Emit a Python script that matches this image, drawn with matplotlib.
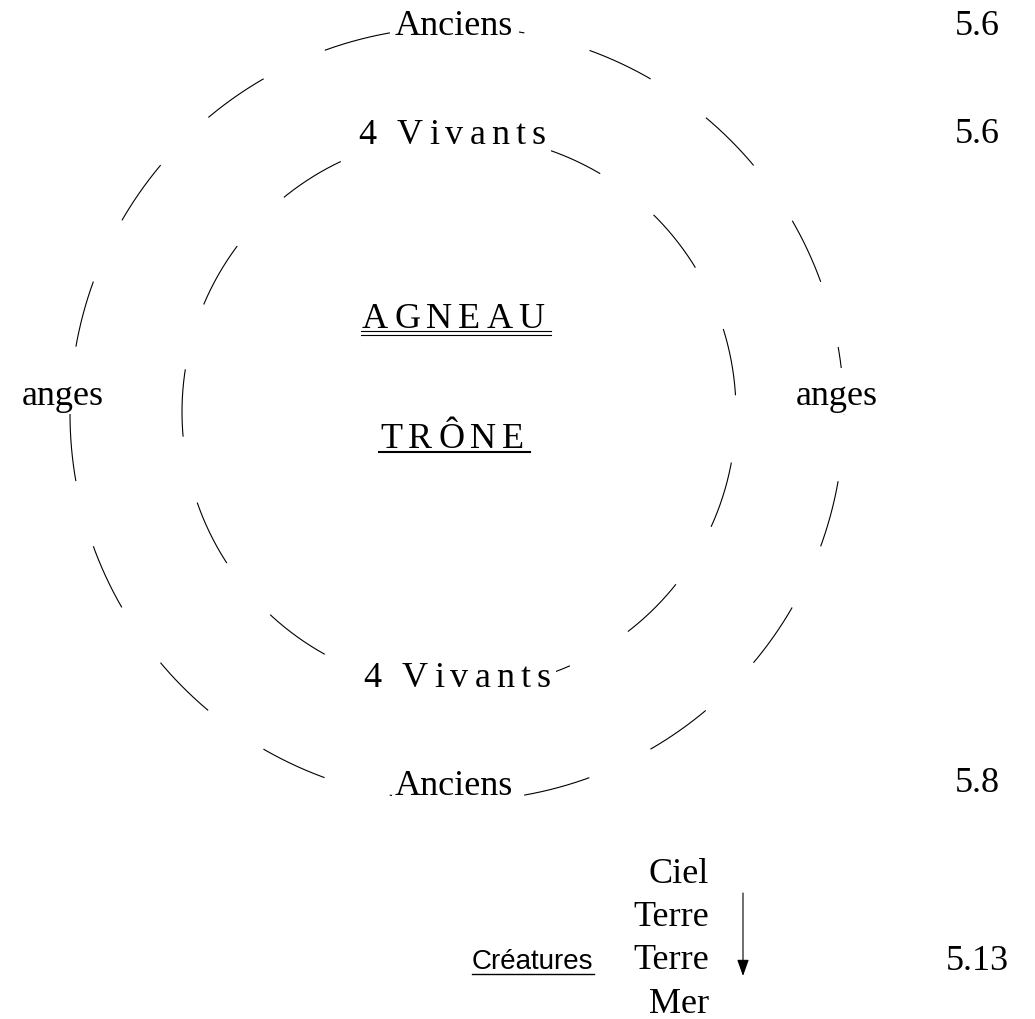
import numpy as np
import matplotlib
matplotlib.use("Agg")
import matplotlib.pyplot as plt
from matplotlib import font_manager
from matplotlib.ft2font import FT2Font
from matplotlib.patches import Rectangle

try:
    from matplotlib.ft2font import LoadFlags
    NO_HINT = LoadFlags.NO_HINTING
except Exception:  # older matplotlib
    from matplotlib.ft2font import LOAD_NO_HINTING as NO_HINT

# ---------------- data (text content) ----------------
ring_labels = ["Anciens", "4 Vivants"]          # outer ring, inner ring
side_label = "anges"
centre_labels = ["AGNEAU", "TRÔNE"]
verse_refs = ["5.6", "5.6", "5.8", "5.13"]
creature_title = "Créatures"
creature_realms = ["Ciel", "Terre", "Terre", "Mer"]

# ---------------- layout ----------------
W, H, DPI = 1035, 1020, 100
plt.rcParams["lines.scale_dashes"] = False
fig = plt.figure(figsize=(W / DPI, H / DPI), dpi=DPI)
ax = fig.add_axes([0, 0, 1, 1])
ax.set_xlim(0, W)
ax.set_ylim(H, 0)
ax.axis("off")

SERIF = "Liberation Serif"
SANS = "Liberation Sans"
FS = 26
EM = FS * DPI / 72.0
TRACK = 6.0
DASH_PT = 67.55 * 72.0 / DPI      # dash = gap
LW = 0.8


def advances(s, family, size):
    path = font_manager.findfont(font_manager.FontProperties(family=family))
    ft = FT2Font(path)
    ft.set_size(size, DPI)
    out = []
    for c in s:
        g = ft.load_char(ord(c), flags=NO_HINT)
        out.append(g.linearHoriAdvance / 65536.0)
    return out


def mask(x0, x1, base, em=EM):
    ax.add_patch(Rectangle((x0, base - em), x1 - x0, em * 1.27,
                           facecolor="white", edgecolor="none", zorder=2))


def plain(x, y, s, ha="left", family=SERIF, size=FS, masked=False,
          padl=3, padr=6):
    t = ax.text(x, y, s, ha=ha, va="baseline", family=family, fontsize=size,
                color="black", zorder=3)
    if masked:
        w = sum(advances(s, family, size))
        mask(x - padl, x + w + padr, y)
    return t


def tracked(x, y, s, track=TRACK, family=SERIF, size=FS, masked=False):
    adv = advances(s, family, size)
    pos = x
    for c, a in zip(s, adv):
        if c != " ":
            ax.text(pos, y, c, ha="left", va="baseline", family=family,
                    fontsize=size, color="black", zorder=3)
        pos += a + track
    if masked:
        mask(x - 3, pos, y)
    return pos


def ring(cx, cy, r, start_deg):
    t = np.deg2rad(np.linspace(start_deg, start_deg + 360.0, 3000))
    ax.plot(cx + r * np.cos(t), cy + r * np.sin(t), color="black", lw=LW,
            linestyle=(0, (DASH_PT, DASH_PT)), dash_capstyle="butt", zorder=1)


# dashed rings
ring(457, 415, 387, 10.0)
ring(459, 413, 277, 119.0)

# ring labels
plain(395, 35, ring_labels[0], masked=True)
plain(395, 795, ring_labels[0], masked=True)
tracked(358, 144, ring_labels[1], masked=True)
tracked(363, 687, ring_labels[1], masked=True)
plain(22, 405, side_label, masked=True)
plain(796, 405, side_label, masked=True)

# centre labels with underlines
end_a = tracked(362, 328, centre_labels[0])
ax.plot([361, end_a], [332, 332], color="black", lw=LW, zorder=3)
ax.plot([361, end_a], [335.5, 335.5], color="black", lw=LW, zorder=3)
end_t = tracked(380, 448, centre_labels[1])
ax.plot([379, end_t], [453, 453], color="black", lw=1.5, zorder=3)

# verse references
plain(955, 35, verse_refs[0])
plain(955, 143, verse_refs[1])
plain(955, 792, verse_refs[2])
plain(946, 970, verse_refs[3])

# creatures
cs = 20
cx0 = 472
plain(cx0, 969, creature_title, family=SANS, size=cs)
wc = sum(advances(creature_title, SANS, cs))
ax.plot([cx0, cx0 + wc], [975, 975], color="black", lw=1.0, zorder=3)
for y, s in zip([883, 926, 969, 1013], creature_realms):
    plain(709, y, s, ha="right")

ax.annotate("", xy=(743, 977), xytext=(743, 894),
            arrowprops=dict(arrowstyle="-|>,head_length=0.56,head_width=0.2",
                            mutation_scale=18, color="black", lw=LW,
                            shrinkA=0, shrinkB=0))

fig.savefig("out.png", dpi=DPI, facecolor="white")
